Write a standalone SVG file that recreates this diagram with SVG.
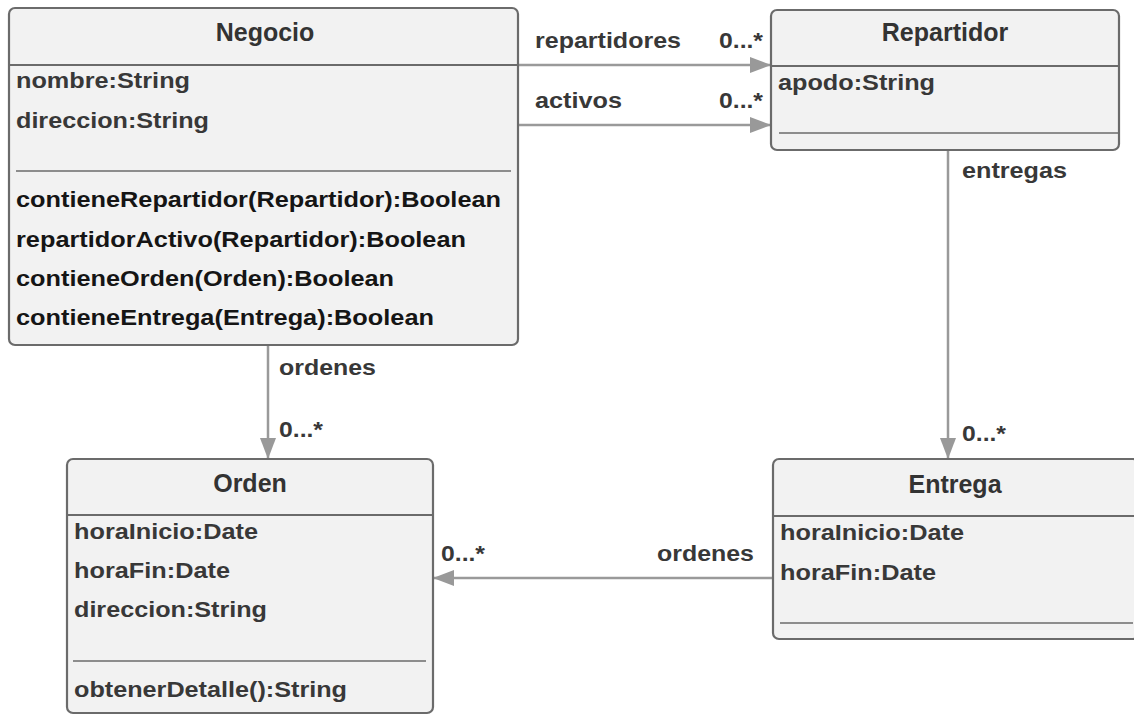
<svg xmlns="http://www.w3.org/2000/svg" width="1134" height="715" viewBox="0 0 1134 715">
  <defs>
    <marker id="arrow" markerWidth="22" markerHeight="18" refX="21" refY="9" orient="auto" markerUnits="userSpaceOnUse">
      <path d="M0,1 L21,9 L0,17 Z" fill="#999999"/>
    </marker>
    <style>
      text { font-family: "Liberation Sans", Arial, sans-serif; font-weight: bold; }
      .box { fill: #f2f2f2; stroke: #6b6b6b; stroke-width: 2.2; }
      .div { stroke: #6b6b6b; stroke-width: 2; }
      .sep { stroke: #6b6b6b; stroke-width: 1.3; }
      .title { font-size: 25px; fill: #333333; text-anchor: middle; }
      .attr { font-size: 22px; fill: #383838; }
      .meth { font-size: 22px; fill: #151515; }
      .lbl { font-size: 22px; fill: #383838; }
      .edge { stroke: #9a9a9a; stroke-width: 2.5; fill: none; marker-end: url(#arrow); }
    </style>
  </defs>
  <rect width="1134" height="715" fill="#ffffff"/>

  <!-- associations -->
  <g id="connectors">
    <line class="edge" x1="518" y1="65" x2="771" y2="65"/>
    <line class="edge" x1="518" y1="125" x2="771" y2="125"/>
    <line class="edge" x1="948" y1="150" x2="948" y2="459"/>
    <line class="edge" x1="268" y1="345" x2="268" y2="459"/>
    <line class="edge" x1="773" y1="578" x2="433" y2="578"/>
    <text class="lbl" x="535" y="48" textLength="146" lengthAdjust="spacingAndGlyphs">repartidores</text>
    <text class="lbl" x="719" y="48" textLength="44" lengthAdjust="spacingAndGlyphs">0...*</text>
    <text class="lbl" x="535" y="108" textLength="87" lengthAdjust="spacingAndGlyphs">activos</text>
    <text class="lbl" x="719" y="108" textLength="44" lengthAdjust="spacingAndGlyphs">0...*</text>
    <text class="lbl" x="962" y="178" textLength="105" lengthAdjust="spacingAndGlyphs">entregas</text>
    <text class="lbl" x="962" y="441" textLength="44" lengthAdjust="spacingAndGlyphs">0...*</text>
    <text class="lbl" x="279" y="375" textLength="97" lengthAdjust="spacingAndGlyphs">ordenes</text>
    <text class="lbl" x="279" y="437" textLength="44" lengthAdjust="spacingAndGlyphs">0...*</text>
    <text class="lbl" x="657" y="561" textLength="97" lengthAdjust="spacingAndGlyphs">ordenes</text>
    <text class="lbl" x="441" y="561" textLength="44" lengthAdjust="spacingAndGlyphs">0...*</text>
  </g>

  <!-- Negocio class -->
  <g id="negocio">
    <rect class="box" x="9" y="8" width="509" height="337" rx="6"/>
    <line class="div" x1="9" y1="65" x2="518" y2="65"/>
    <text class="title" x="265" y="41">Negocio</text>
    <text class="attr" x="16" y="88" textLength="174" lengthAdjust="spacingAndGlyphs">nombre:String</text>
    <text class="attr" x="16" y="128" textLength="193" lengthAdjust="spacingAndGlyphs">direccion:String</text>
    <line class="sep" x1="16" y1="171" x2="511" y2="171"/>
    <text class="meth" x="16" y="207" textLength="485" lengthAdjust="spacingAndGlyphs">contieneRepartidor(Repartidor):Boolean</text>
    <text class="meth" x="16" y="247" textLength="450" lengthAdjust="spacingAndGlyphs">repartidorActivo(Repartidor):Boolean</text>
    <text class="meth" x="16" y="286" textLength="378" lengthAdjust="spacingAndGlyphs">contieneOrden(Orden):Boolean</text>
    <text class="meth" x="16" y="325" textLength="418" lengthAdjust="spacingAndGlyphs">contieneEntrega(Entrega):Boolean</text>
  </g>

  <!-- Repartidor class -->
  <g id="repartidor">
    <rect class="box" x="771" y="10" width="348" height="140" rx="6"/>
    <line class="div" x1="771" y1="66" x2="1119" y2="66"/>
    <text class="title" x="945" y="41">Repartidor</text>
    <text class="attr" x="778" y="90" textLength="157" lengthAdjust="spacingAndGlyphs">apodo:String</text>
    <line class="sep" x1="779" y1="133" x2="1118" y2="133"/>
  </g>

  <!-- Orden class -->
  <g id="orden">
    <rect class="box" x="67" y="459" width="366" height="254" rx="6"/>
    <line class="div" x1="67" y1="515" x2="433" y2="515"/>
    <text class="title" x="250" y="492">Orden</text>
    <text class="attr" x="74" y="539" textLength="184" lengthAdjust="spacingAndGlyphs">horaInicio:Date</text>
    <text class="attr" x="74" y="578" textLength="156" lengthAdjust="spacingAndGlyphs">horaFin:Date</text>
    <text class="attr" x="74" y="617" textLength="193" lengthAdjust="spacingAndGlyphs">direccion:String</text>
    <line class="sep" x1="73" y1="661" x2="426" y2="661"/>
    <text class="attr" x="74" y="697" textLength="273" lengthAdjust="spacingAndGlyphs">obtenerDetalle():String</text>
  </g>

  <!-- Entrega class -->
  <g id="entrega">
    <rect class="box" x="773" y="459" width="366" height="180" rx="6"/>
    <line class="div" x1="773" y1="516" x2="1139" y2="516"/>
    <text class="title" x="955" y="493">Entrega</text>
    <text class="attr" x="780" y="540" textLength="184" lengthAdjust="spacingAndGlyphs">horaInicio:Date</text>
    <text class="attr" x="780" y="580" textLength="156" lengthAdjust="spacingAndGlyphs">horaFin:Date</text>
    <line class="sep" x1="780" y1="623" x2="1133" y2="623"/>
  </g>
</svg>
